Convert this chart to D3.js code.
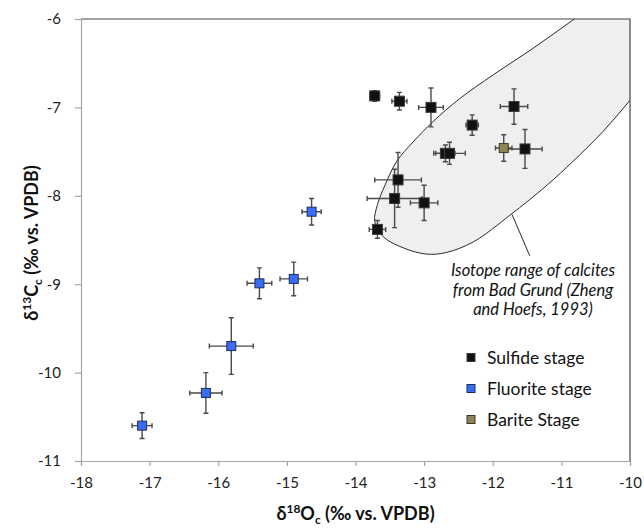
<!DOCTYPE html>
<html>
<head>
<meta charset="utf-8">
<script src="https://cdn.jsdelivr.net/npm/d3@7"></script>
<style>
  html, body { margin: 0; padding: 0; background: #fff; }
  svg { display: block; font-family: Lato, "Open Sans", sans-serif; }
</style>
</head>
<body>
<svg id="chart" width="644" height="528"></svg>
<script>
// Sulfide stage calcites: δ18O, δ13C and their uncertainties (‰ VPDB)
const sulfideO   = [-13.72, -13.36, -12.90, -11.69, -12.30, -12.69, -12.63, -11.53, -13.38, -13.43, -13.00, -13.68];
const sulfideC   = [-6.87, -6.93, -7.00, -6.99, -7.20, -7.52, -7.52, -7.47, -7.82, -8.03, -8.08, -8.38];
const sulfideOerr = [0.07, 0.11, 0.18, 0.20, 0.09, 0.14, 0.23, 0.25, 0.34, 0.40, 0.20, 0.12];
const sulfideCerr = [0.06, 0.10, 0.22, 0.20, 0.115, 0.095, 0.125, 0.22, 0.31, 0.33, 0.20, 0.10];

// Fluorite stage calcites
const fluoriteO    = [-14.64, -14.90, -15.40, -15.81, -16.18, -17.11];
const fluoriteC    = [-8.18, -8.94, -8.99, -9.70, -10.23, -10.60];
const fluoriteOerr = [0.14, 0.20, 0.18, 0.32, 0.235, 0.145];
const fluoriteCerr = [0.15, 0.19, 0.175, 0.32, 0.23, 0.145];

// Barite stage calcite
const bariteO    = [-11.84];
const bariteC    = [-7.46];
const bariteOerr = [0.12];
const bariteCerr = [0.15];

// Outline of the Bad Grund calcite field (Zheng and Hoefs, 1993), δ18O / δ13C;
// the field runs on past the plotted range and is clipped to it
const fieldO = [-9.67, -10.25, -10.83, -11.41, -11.99, -12.48, -12.87, -13.16, -13.40, -13.57, -13.68, -13.72,
                -13.60, -13.30, -12.96, -12.67, -12.28, -11.75, -11.21, -10.83, -10.39, -10.00, -9.56, -9.12, -8.70, -9.10];
const fieldC = [-5.37, -5.69, -6.01, -6.33, -6.63, -6.90, -7.16, -7.39, -7.61, -7.88, -8.10, -8.29,
                -8.46, -8.59, -8.66, -8.64, -8.52, -8.22, -7.88, -7.61, -7.27, -6.92, -6.51, -6.10, -5.60, -5.20];

// Axis ticks
const xTicks = [-18, -17, -16, -15, -14, -13, -12, -11, -10];
const yTicks = [-11, -10, -9, -8, -7, -6];

const noteLines = ["Isotope range of calcites", "from Bad Grund (Zheng", "and Hoefs, 1993)"];
const legendLabels = ["Sulfide stage", "Fluorite stage", "Barite Stage"];

const series = [
  { name: legendLabels[0], o: sulfideO, c: sulfideC, oe: sulfideOerr, ce: sulfideCerr, fill: "#111111", stroke: "#3a3a3a", size: 10 },
  { name: legendLabels[1], o: fluoriteO, c: fluoriteC, oe: fluoriteOerr, ce: fluoriteCerr, fill: "#3a6cf6", stroke: "#1c2f5c", size: 9 },
  { name: legendLabels[2], o: bariteO, c: bariteC, oe: bariteOerr, ce: bariteCerr, fill: "#8f8657", stroke: "#3b3822", size: 9 }
];

const svg = d3.select("#chart");
const plot = { left: 81, right: 630, top: 19, bottom: 461 };

const x = d3.scaleLinear().domain([-18, -10]).range([plot.left, plot.right]);
const y = d3.scaleLinear().domain([-11, -6]).range([plot.bottom, plot.top]);

svg.append("clipPath").attr("id", "plotClip")
  .append("rect")
  .attr("x", plot.left).attr("y", plot.top)
  .attr("width", plot.right - plot.left).attr("height", plot.bottom - plot.top);

// Calcite field
const fieldPts = fieldO.map((o, i) => [x(o), y(fieldC[i])]);
svg.append("path")
  .attr("clip-path", "url(#plotClip)")
  .attr("d", d3.line().curve(d3.curveCatmullRomClosed.alpha(0.5))(fieldPts))
  .attr("fill", "#efefef")
  .attr("stroke", "#2b2b2b")
  .attr("stroke-width", 1);

// Callout from the field to its note
svg.append("line")
  .attr("x1", x(-11.72)).attr("y1", y(-8.21))
  .attr("x2", x(-11.46)).attr("y2", y(-8.68))
  .attr("stroke", "#2b2b2b").attr("stroke-width", 1);

const note = svg.append("text")
  .attr("text-anchor", "middle")
  .attr("font-style", "italic")
  .attr("font-size", 16.5)
  .attr("fill", "#111");
noteLines.forEach((t, i) => {
  note.append("tspan").attr("x", 533).attr("y", 276 + i * 19.5).text(t);
});

// Plot frame: top and right edges
svg.append("path")
  .attr("d", `M${plot.left},${plot.top}H${plot.right}V${plot.bottom}`)
  .attr("fill", "none").attr("stroke", "#444").attr("stroke-width", 1.2);

// Axes
const fmt = d => String(d);
const xAxis = d3.axisBottom(x).tickValues(xTicks).tickFormat(fmt).tickSizeOuter(0).tickSize(5).tickPadding(11);
const yAxis = d3.axisLeft(y).tickValues(yTicks).tickFormat(fmt).tickSizeOuter(0).tickSize(6).tickPadding(14);

const gx = svg.append("g").attr("transform", `translate(0,${plot.bottom})`).call(xAxis);
const gy = svg.append("g").attr("transform", `translate(${plot.left},0)`).call(yAxis);
[gx, gy].forEach(g => {
  g.select(".domain").attr("stroke", "#a6a6a6").attr("stroke-width", 1.2);
  g.selectAll(".tick line").attr("stroke", "#a6a6a6").attr("stroke-width", 1.2);
  g.selectAll(".tick text").attr("font-size", 15).attr("fill", "#222")
    .attr("font-family", "Lato, 'Open Sans', sans-serif");
});

// Error bars and markers
const cap = 2.5;
series.forEach(s => {
  const g = svg.append("g");
  s.o.forEach((o, i) => {
    const cx = x(o), cy = y(s.c[i]);
    const x0 = x(o - s.oe[i]), x1 = x(o + s.oe[i]);
    const y0 = y(s.c[i] - s.ce[i]), y1 = y(s.c[i] + s.ce[i]);
    g.append("path")
      .attr("d", `M${x0},${cy}H${x1}M${x0},${cy - cap}V${cy + cap}M${x1},${cy - cap}V${cy + cap}` +
                 `M${cx},${y0}V${y1}M${cx - cap},${y0}H${cx + cap}M${cx - cap},${y1}H${cx + cap}`)
      .attr("fill", "none").attr("stroke", "#4a4a4a").attr("stroke-width", 1.4);
  });
});
series.forEach(s => {
  svg.append("g").selectAll("rect").data(s.o).join("rect")
    .attr("x", (o) => x(o) - s.size / 2)
    .attr("y", (o, i) => y(s.c[i]) - s.size / 2)
    .attr("width", s.size).attr("height", s.size)
    .attr("fill", s.fill).attr("stroke", s.stroke).attr("stroke-width", 1);
});

// Legend
const legend = svg.append("g");
series.forEach((s, i) => {
  const ly = 358 + i * 31;
  legend.append("rect")
    .attr("x", 467).attr("y", ly - 4.5).attr("width", 8).attr("height", 8)
    .attr("fill", s.fill).attr("stroke", s.stroke).attr("stroke-width", 1);
  legend.append("text")
    .attr("x", 487).attr("y", ly).attr("dy", "0.35em")
    .attr("font-size", 17.5).attr("fill", "#111").text(s.name);
});

// Axis titles
const xt = svg.append("text")
  .attr("x", (plot.left + plot.right) / 2).attr("y", 520)
  .attr("text-anchor", "middle").attr("font-weight", "bold").attr("font-size", 18).attr("fill", "#111");
xt.append("tspan").text("δ");
xt.append("tspan").attr("font-size", 12).attr("dy", -7).text("18");
xt.append("tspan").attr("dy", 7).text("O");
xt.append("tspan").attr("font-size", 12).attr("dy", 4).text("c");
xt.append("tspan").attr("dy", -4).text(" (‰ vs. VPDB)");

const yt = svg.append("text")
  .attr("transform", `translate(38,${(plot.top + plot.bottom) / 2 + 3}) rotate(-90)`)
  .attr("text-anchor", "middle").attr("font-weight", "bold").attr("font-size", 18).attr("fill", "#111");
yt.append("tspan").text("δ");
yt.append("tspan").attr("font-size", 12).attr("dy", -7).text("13");
yt.append("tspan").attr("dy", 7).text("C");
yt.append("tspan").attr("font-size", 12).attr("dy", 4).text("c");
yt.append("tspan").attr("dy", -4).text(" (‰ vs. VPDB)");
</script>
</body>
</html>
